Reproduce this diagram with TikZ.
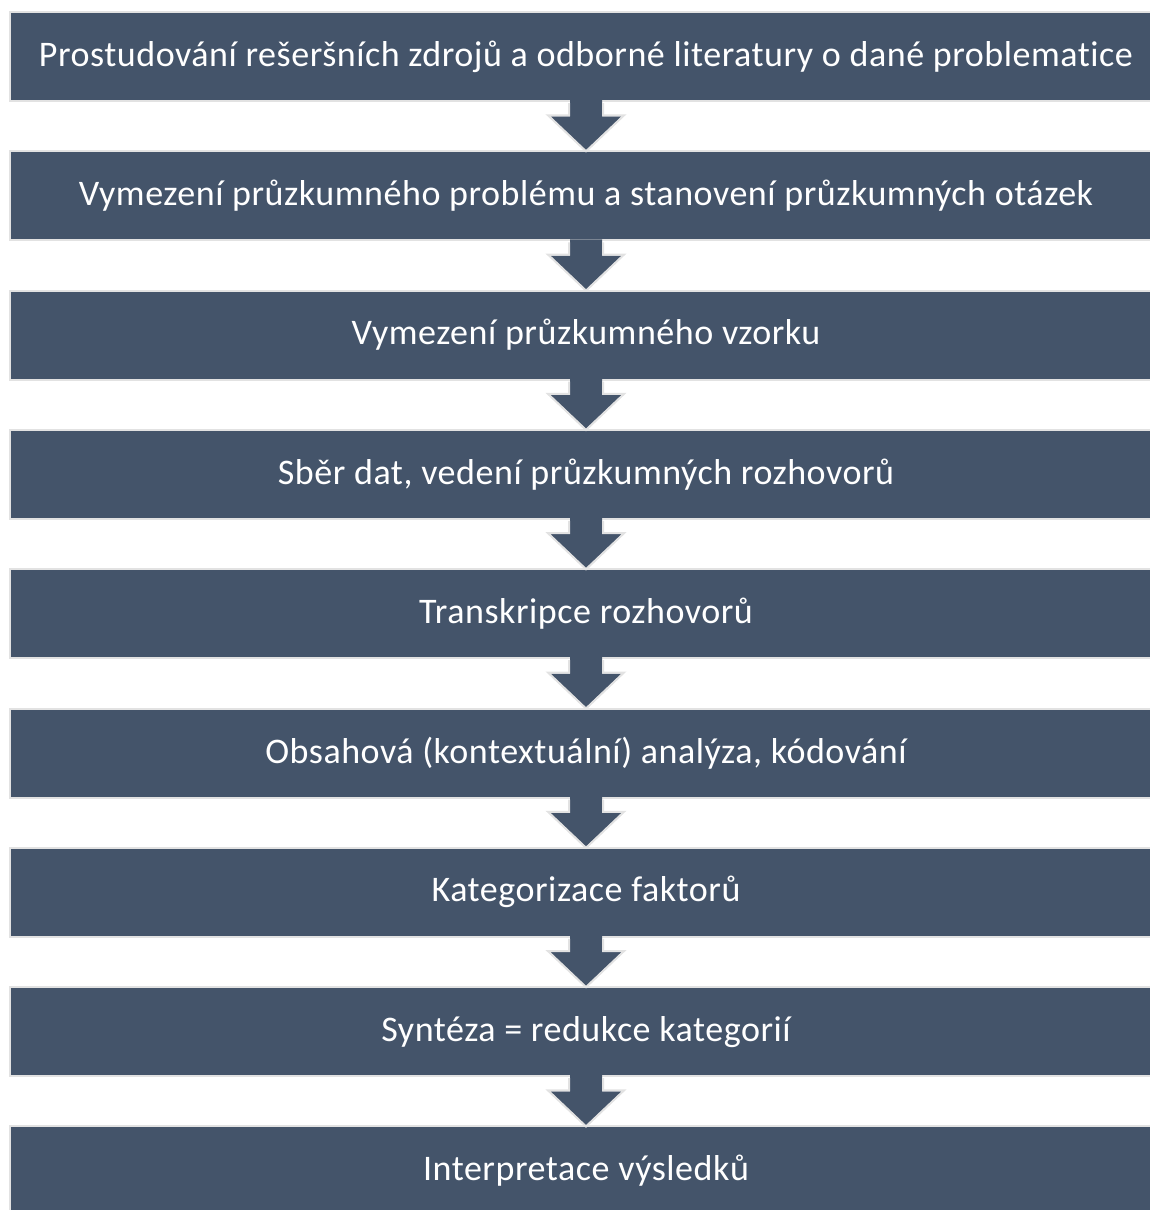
\documentclass[tikz,border=0pt]{standalone}
\usepackage{fontspec}
\setmainfont{Carlito}[LetterSpace=1.5, Ligatures=NoCommon]
\usetikzlibrary{positioning, calc}
\definecolor{slate}{HTML}{44546A}
\definecolor{rim}{HTML}{E2E2E2}
\tikzset{x=1pt, y=1pt,
node distance=48.3pt, % gap between two stages
stage/.style={fill=slate, draw=rim, line width=2pt, text=white,
  minimum width=1152pt, minimum height=89pt, inner sep=0pt,
  font=\fontsize{36}{43}\selectfont},
arrowfill/.style={fill=slate},
arrowrim/.style={draw=rim, line width=2pt, line join=miter},
}

\begin{document}
\begin{tikzpicture}
  \useasboundingbox (0,0) rectangle (1149,-1210);
  \node[stage] (s1) at (586,-56.5) {Prostudování rešeršních zdrojů a odborné literatury o dané problematice};
  \node[stage, below=of s1] (s2) {Vymezení průzkumného problému a stanovení průzkumných otázek};
  \node[stage, below=of s2] (s3) {Vymezení průzkumného vzorku};
  \node[stage, below=of s3] (s4) {Sběr dat, vedení průzkumných rozhovorů};
  \node[stage, below=of s4] (s5) {Transkripce rozhovorů};
  \node[stage, below=of s5] (s6) {Obsahová (kontextuální) analýza, kódování};
  \node[stage, below=of s6] (s7) {Kategorizace faktorů};
  \node[stage, below=of s7] (s8) {Syntéza = redukce kategorií};
  \node[stage, below=of s8] (s9) {Interpretace výsledků};

  % block arrows between the stages
  \foreach \a/\b in {s1/s2, s2/s3, s3/s4, s4/s5, s5/s6, s6/s7, s7/s8, s8/s9} {
    \fill[arrowfill] ($(\a.south)+(-16,2)$) -- ($(\a.south)+(16,2)$)
      -- ($(\b.north)+(16,34)$) -- ($(\b.north)+(36,34)$) -- (\b.north)
      -- ($(\b.north)+(-36,34)$) -- ($(\b.north)+(-16,34)$) -- cycle;
    \draw[arrowrim] ($(\a.south)+(-17,-1)$) -- ($(\b.north)+(-17,35)$)
      -- ($(\b.north)+(-38,35)$) -- ($(\b.north)+(0,-1)$)
      -- ($(\b.north)+(38,35)$) -- ($(\b.north)+(17,35)$) -- ($(\a.south)+(17,-1)$);
  }
\end{tikzpicture}
\end{document}
